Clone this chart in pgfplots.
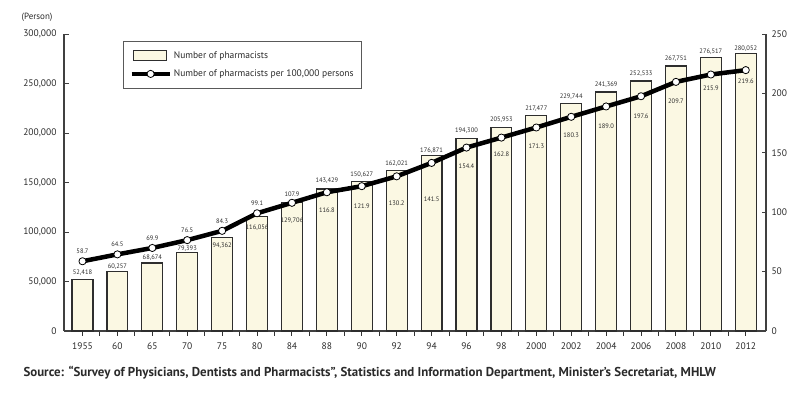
\documentclass[border=0pt]{standalone}
\usepackage{pgfplots}
\usepackage{pgfplotstable}
\pgfplotsset{compat=1.18}
\usepackage{fontspec}
\setmainfont{PT Sans}
\definecolor{barfill}{HTML}{FBF8E3}
\definecolor{baredge}{HTML}{2E2E2E}
\definecolor{txt}{HTML}{2A2A2A}

\pgfplotstableread{
x year bar bpos line lpos
0 1955 52418 6 58.7 10
1 60 60257 5 64.5 10
2 65 68674 5.5 69.9 10
3 70 79393 4 76.5 10
4 75 94362 -8 84.3 10
5 80 116056 -12 99.1 10
6 84 129706 -18 107.9 9
7 88 143429 8 116.8 -18
8 90 150627 7.5 121.9 -20
9 92 162021 6.5 130.2 -27
10 94 176871 5.5 141.5 -36
11 96 194300 8 154.4 -19
12 98 205953 7 162.8 -17
13 2000 217477 7 171.3 -19
14 2002 229744 7 180.3 -18
15 2004 241369 7 189.0 -20
16 2006 252533 7 197.6 -20
17 2008 267751 7 209.7 -19
18 2010 276517 6 215.9 -14
19 2012 280052 5 219.6 -11
}\datatable

\begin{document}
\begin{tikzpicture}
\begin{axis}[
  name=ax,
  scale only axis, width=702pt, height=297pt,
  xmin=-0.53, xmax=19.58,
  ymin=0, ymax=300000,
  clip=false,
  axis x line*=bottom, axis y line*=left,
  axis line style={-, line width=1.2pt, draw=black!75},
  ybar, bar width=0.6,
  xtick={0.5,1.5,...,18.5}, xticklabels={},
  major tick length=5pt,
  major x tick style={line width=1pt, draw=black!80},
  major y tick style={line width=0.9pt, draw=black!75},
  extra x ticks={0,...,19},
  extra x tick labels={1955,60,65,70,75,80,84,88,90,92,94,96,98,2000,2002,2004,2006,2008,2010,2012},
  extra x tick style={tick style={draw=none}, xticklabel style={yshift=-3pt}},
  ytick={0,50000,...,300000},
  scaled y ticks=false,
  yticklabel style={/pgf/number format/fixed, /pgf/number format/precision=0, /pgf/number format/1000 sep={,}, xshift=-4pt},
  /pgf/number format/assume math mode=true,
  tick label style={font=\fontsize{9.5}{10}\selectfont, text=txt},
  nodes near coords={\pgfmathprintnumber[fixed, precision=0, 1000 sep={,}]{\pgfplotspointmeta}},
  visualization depends on={\thisrow{bpos}\as\bpos},
  every node near coord/.append style={anchor=center, yshift=\bpos pt, font=\fontsize{6.5}{7}\selectfont, text=txt, inner sep=0pt},
]
\addplot[fill=barfill, draw=baredge, line width=1.2pt] table[x=x, y=bar, meta=bar] {\datatable};
\end{axis}
\begin{axis}[
  scale only axis, width=702pt, height=297pt,
  xmin=-0.53, xmax=19.58,
  ymin=0, ymax=250,
  clip=false,
  axis x line=none, axis y line*=right,
  axis line style={-, line width=1.2pt, draw=black!75},
  major tick length=4pt,
  major y tick style={line width=0.9pt, draw=black!75},
  ytick={0,50,...,250},
  yticklabel style={/pgf/number format/fixed, xshift=2pt},
  /pgf/number format/assume math mode=true,
  tick label style={font=\fontsize{9.5}{10}\selectfont, text=txt},
  legend style={at={(0.084,0.976)}, anchor=north west, draw=black!65, line width=0.8pt,
    font=\fontsize{9.5}{11}\selectfont, text=txt, row sep=6pt, inner xsep=6pt, inner ysep=8pt},
  legend cell align=left,
]
\addlegendimage{legend image code/.code={\draw[fill=barfill, draw=baredge, line width=1pt] (2pt,-5pt) rectangle (35pt,5pt);}}
\addlegendentry{Number of pharmacists}
\addplot[line width=4.5pt, black, line join=round,
  mark=*, mark size=3.6pt, mark options={fill=white, draw=black, line width=0.8pt},
  legend image code/.code={\draw[line width=4.5pt] (0pt,0pt) -- (38pt,0pt); \draw[fill=white, line width=0.8pt] (19pt,0pt) circle (3.6pt);},
  nodes near coords={\pgfmathprintnumber[fixed, fixed zerofill, precision=1]{\pgfplotspointmeta}},
  visualization depends on={\thisrow{lpos}\as\lpos},
  every node near coord/.append style={anchor=center, yshift=\lpos pt, font=\fontsize{6.5}{7}\selectfont, text=txt, inner sep=0pt},
] table[x=x, y=line, meta=line] {\datatable};
\addlegendentry{Number of pharmacists per 100,000 persons\hspace{18pt}}
\end{axis}
\node[anchor=center, font=\fontsize{9}{10}\selectfont, text=txt] at ([xshift=-27pt, yshift=17pt]ax.north west) {(Person)};
\node[anchor=west, font=\bfseries\fontsize{12.9}{14}\selectfont, text=txt] at ([xshift=-44pt, yshift=-42pt]ax.south west) {Source: ``Survey of Physicians, Dentists and Pharmacists'', Statistics and Information Department, Minister's Secretariat, MHLW};
\pgfresetboundingbox
\path[use as bounding box] ([xshift=-64pt, yshift=-62pt]ax.south west) rectangle ([xshift=34pt, yshift=34pt]ax.north east);
\end{tikzpicture}
\end{document}
